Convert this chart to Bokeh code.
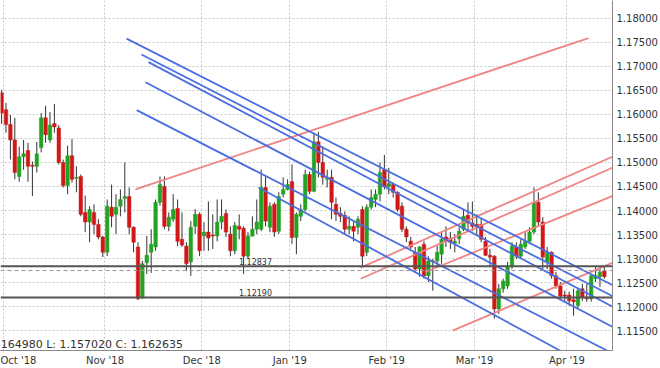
import pandas as pd
from bokeh.plotting import figure
from bokeh.models import Range1d, FixedTicker, Span, Label, ColumnDataSource, PrintfTickFormatter
from bokeh.core.properties import value
from bokeh.embed import file_html
from bokeh.resources import INLINE

# ---------------- data ----------------
holidays = ["2018-12-25", "2019-01-01"]
dates = [d for d in pd.bdate_range("2018-09-28", "2019-04-11") if d.strftime("%Y-%m-%d") not in holidays]

opens = [1.1645, 1.1610, 1.1579, 1.1547, 1.1471, 1.1512, 1.1525, 1.1494, 1.1492, 1.1531,
         1.1593, 1.1547, 1.1581, 1.1572, 1.1500, 1.1452, 1.1514, 1.1467, 1.1471, 1.1396,
         1.1376, 1.1396, 1.1371, 1.1345, 1.1313, 1.1407, 1.1392, 1.1409, 1.1425, 1.1429,
         1.1365, 1.1324, 1.1220, 1.1291, 1.1313, 1.1324, 1.1417, 1.1450, 1.1367, 1.1382,
         1.1404, 1.1340, 1.1326, 1.1293, 1.1367, 1.1392, 1.1347, 1.1355, 1.1349, 1.1347,
         1.1376, 1.1394, 1.1351, 1.1316, 1.1367, 1.1363, 1.1305, 1.1347, 1.1361, 1.1361,
         1.1448, 1.1365, 1.1413, 1.1357, 1.1434, 1.1444, 1.1460, 1.1344, 1.1388, 1.1402,
         1.1475, 1.1440, 1.1543, 1.1500, 1.1465, 1.1469, 1.1413, 1.1394, 1.1390, 1.1361,
         1.1367, 1.1365, 1.1402, 1.1313, 1.1407, 1.1423, 1.1434, 1.1485, 1.1450, 1.1454,
         1.1438, 1.1409, 1.1361, 1.1336, 1.1313, 1.1278, 1.1330, 1.1264, 1.1295, 1.1295,
         1.1309, 1.1345, 1.1342, 1.1332, 1.1341, 1.1361, 1.1390, 1.1374, 1.1371, 1.1371,
         1.1336, 1.1307, 1.1305, 1.1195, 1.1237, 1.1243, 1.1284, 1.1324, 1.1305, 1.1324,
         1.1336, 1.1355, 1.1417, 1.1376, 1.1293, 1.1313, 1.1264, 1.1243, 1.1224, 1.1224,
         1.1214, 1.1202, 1.1237, 1.1220, 1.1216, 1.1258, 1.1262, 1.1274]
highs = [1.1651, 1.1624, 1.1599, 1.1593, 1.1533, 1.1547, 1.1541, 1.1502, 1.1543, 1.1603,
         1.1618, 1.1605, 1.1622, 1.1578, 1.1506, 1.1535, 1.1549, 1.1492, 1.1475, 1.1431,
         1.1409, 1.1413, 1.1382, 1.1347, 1.1423, 1.1454, 1.1434, 1.1444, 1.1500, 1.1448,
         1.1367, 1.1334, 1.1295, 1.1347, 1.1361, 1.1423, 1.1471, 1.1471, 1.1396, 1.1434,
         1.1423, 1.1396, 1.1334, 1.1378, 1.1403, 1.1396, 1.1376, 1.1419, 1.1392, 1.1423,
         1.1423, 1.1402, 1.1367, 1.1376, 1.1392, 1.1367, 1.1355, 1.1388, 1.1423, 1.1485,
         1.1471, 1.1417, 1.1417, 1.1438, 1.1469, 1.1465, 1.1496, 1.1396, 1.1413, 1.1485,
         1.1481, 1.1562, 1.1564, 1.1533, 1.1485, 1.1485, 1.1427, 1.1407, 1.1398, 1.1388,
         1.1376, 1.1388, 1.1409, 1.1413, 1.1444, 1.1444, 1.1500, 1.1516, 1.1489, 1.1458,
         1.1440, 1.1417, 1.1367, 1.1345, 1.1324, 1.1326, 1.1336, 1.1305, 1.1299, 1.1326,
         1.1355, 1.1367, 1.1355, 1.1351, 1.1365, 1.1402, 1.1417, 1.1419, 1.1392, 1.1382,
         1.1345, 1.1320, 1.1307, 1.1247, 1.1258, 1.1293, 1.1334, 1.1334, 1.1340, 1.1355,
         1.1365, 1.1448, 1.1438, 1.1386, 1.1324, 1.1315, 1.1272, 1.1251, 1.1233, 1.1231,
         1.1237, 1.1237, 1.1247, 1.1247, 1.1268, 1.1284, 1.1282, 1.1284]
lows = [1.1580, 1.1562, 1.1506, 1.1465, 1.1460, 1.1485, 1.1460, 1.1430, 1.1479, 1.1521,
        1.1541, 1.1541, 1.1562, 1.1496, 1.1448, 1.1434, 1.1458, 1.1438, 1.1388, 1.1355,
        1.1334, 1.1351, 1.1340, 1.1303, 1.1305, 1.1365, 1.1351, 1.1388, 1.1396, 1.1351,
        1.1313, 1.1214, 1.1216, 1.1268, 1.1270, 1.1316, 1.1410, 1.1361, 1.1357, 1.1376,
        1.1326, 1.1324, 1.1274, 1.1264, 1.1351, 1.1305, 1.1316, 1.1316, 1.1320, 1.1336,
        1.1361, 1.1345, 1.1305, 1.1309, 1.1340, 1.1268, 1.1299, 1.1345, 1.1351, 1.1357,
        1.1367, 1.1355, 1.1345, 1.1351, 1.1427, 1.1442, 1.1330, 1.1309, 1.1378, 1.1398,
        1.1434, 1.1438, 1.1469, 1.1454, 1.1448, 1.1382, 1.1378, 1.1376, 1.1351, 1.1351,
        1.1336, 1.1351, 1.1284, 1.1305, 1.1402, 1.1407, 1.1419, 1.1444, 1.1434, 1.1427,
        1.1398, 1.1355, 1.1334, 1.1320, 1.1272, 1.1262, 1.1258, 1.1251, 1.1233, 1.1282,
        1.1289, 1.1324, 1.1320, 1.1313, 1.1330, 1.1357, 1.1357, 1.1357, 1.1349, 1.1334,
        1.1305, 1.1284, 1.1175, 1.1185, 1.1229, 1.1237, 1.1278, 1.1299, 1.1299, 1.1320,
        1.1330, 1.1351, 1.1367, 1.1278, 1.1278, 1.1258, 1.1237, 1.1216, 1.1212, 1.1202,
        1.1181, 1.1195, 1.1212, 1.1210, 1.1210, 1.1251, 1.1241, 1.1258]
closes = [1.1603, 1.1579, 1.1547, 1.1479, 1.1512, 1.1518, 1.1492, 1.1492, 1.1518, 1.1593,
          1.1558, 1.1578, 1.1574, 1.1500, 1.1452, 1.1514, 1.1465, 1.1469, 1.1392, 1.1376,
          1.1402, 1.1371, 1.1345, 1.1313, 1.1409, 1.1388, 1.1407, 1.1423, 1.1429, 1.1365,
          1.1334, 1.1216, 1.1289, 1.1307, 1.1330, 1.1417, 1.1454, 1.1367, 1.1386, 1.1402,
          1.1336, 1.1328, 1.1289, 1.1365, 1.1392, 1.1316, 1.1355, 1.1343, 1.1347, 1.1376,
          1.1388, 1.1355, 1.1316, 1.1369, 1.1361, 1.1305, 1.1347, 1.1361, 1.1376, 1.1448,
          1.1378, 1.1409, 1.1355, 1.1429, 1.1444, 1.1454, 1.1344, 1.1392, 1.1402, 1.1475,
          1.1440, 1.1543, 1.1500, 1.1469, 1.1469, 1.1417, 1.1392, 1.1388, 1.1361, 1.1367,
          1.1357, 1.1382, 1.1305, 1.1407, 1.1427, 1.1434, 1.1479, 1.1450, 1.1456, 1.1438,
          1.1402, 1.1361, 1.1345, 1.1324, 1.1278, 1.1324, 1.1264, 1.1295, 1.1293, 1.1313,
          1.1340, 1.1336, 1.1334, 1.1336, 1.1357, 1.1388, 1.1374, 1.1367, 1.1365, 1.1340,
          1.1307, 1.1303, 1.1195, 1.1237, 1.1253, 1.1284, 1.1326, 1.1305, 1.1330, 1.1336,
          1.1355, 1.1417, 1.1376, 1.1303, 1.1313, 1.1264, 1.1243, 1.1222, 1.1222, 1.1212,
          1.1210, 1.1233, 1.1220, 1.1216, 1.1264, 1.1264, 1.1272, 1.12623]

month_labels = ["Oct '18", "Nov '18", "Dec '18", "Jan '19", "Feb '19", "Mar '19", "Apr '19"]
month_starts = ["2018-10-01", "2018-11-01", "2018-12-03", "2019-01-02", "2019-02-01", "2019-03-01", "2019-04-01"]

# trend lines in (bar index, price)
blue_x0 = [28.4, 31.8, 33.4, 32.7, 30.7, 58.4]
blue_y0 = [1.1758, 1.1725, 1.1709, 1.1667, 1.1609, 1.1448]
blue_x1 = [138.8, 138.8, 138.8, 138.8, 137.7, 127.0]
blue_y1 = [1.1245, 1.1222, 1.1200, 1.1158, 1.1108, 1.1108]
red_x0 = [30.4, 81.6, 81.6, 96.3, 102.5]
red_y0 = [1.1444, 1.1281, 1.1258, 1.1272, 1.1150]
red_x1 = [133.4, 138.8, 138.8, 138.8, 138.8]
red_y1 = [1.1759, 1.1512, 1.1489, 1.1430, 1.1291]

level_hi = 1.12837
level_lo = 1.12190
level_dash = 1.1275
last_price = 1.12623
ohlc_text = "164980 L: 1.157020 C: 1.162635"

# ---------------- plot ----------------
n = len(closes)
idx = list(range(n))
date_to_idx = {d.strftime("%Y-%m-%d"): i for i, d in enumerate(dates)}
up = [c >= o for o, c in zip(opens, closes)]
src_up = ColumnDataSource(dict(x=[i for i in idx if up[i]],
                               top=[closes[i] for i in idx if up[i]],
                               bottom=[opens[i] for i in idx if up[i]]))
src_dn = ColumnDataSource(dict(x=[i for i in idx if not up[i]],
                               top=[opens[i] for i in idx if not up[i]],
                               bottom=[closes[i] for i in idx if not up[i]]))

FONT = "DejaVu Sans"
p = figure(width=660, height=368, output_backend="svg", toolbar_location=None,
           x_range=Range1d(-0.25, 138.85), y_range=Range1d(1.11085, 1.18373),
           y_axis_location="right", min_border_left=0, min_border_top=0,
           min_border_right=48, min_border_bottom=16)
p.outline_line_color = None
p.background_fill_color = "white"

tick_pos = [date_to_idx[d] - 0.5 for d in month_starts]
p.xaxis.ticker = FixedTicker(ticks=tick_pos)
p.xaxis.major_label_overrides = {t: l for t, l in zip(tick_pos, month_labels)}
p.yaxis.ticker = FixedTicker(ticks=[1.115 + 0.005 * k for k in range(14)])
p.yaxis.formatter = PrintfTickFormatter(format="%.5f")

for ax in (p.xaxis[0], p.yaxis[0]):
    ax.axis_line_color = "#888888"
    ax.major_tick_line_color = None
    ax.minor_tick_line_color = None
    ax.major_tick_out = 0
    ax.major_tick_in = 0
    ax.major_label_text_font = FONT
    ax.major_label_text_font_size = "10px"
    ax.major_label_text_color = "#333333"
    ax.major_label_standoff = 4

p.grid.grid_line_color = "#c8c8c8"
p.grid.grid_line_dash = "2 2"

# horizontal levels
p.add_layout(Span(location=level_dash, dimension="width", line_color="#999999",
                  line_dash="4 3", line_width=1))
p.add_layout(Span(location=level_hi, dimension="width", line_color="#555555", line_width=2))
p.add_layout(Span(location=level_lo, dimension="width", line_color="#555555", line_width=2))
p.text(x=[57.7, 57.7], y=[level_hi + 0.0002, level_lo + 0.0003],
       text=["1.12837", "1.12190"], text_align="center", text_baseline="bottom",
       text_font_size="8px", text_color="#333333", text_font=value(FONT))

# candles
p.segment(x0=idx, y0=lows, x1=idx, y1=highs, color="#333333", line_width=1)
p.vbar(x="x", top="top", bottom="bottom", width=0.8, source=src_up,
       fill_color="#22a322", line_color="#22a322", line_width=0.5)
p.vbar(x="x", top="top", bottom="bottom", width=0.8, source=src_dn,
       fill_color="#d01818", line_color="#d01818", line_width=0.5)

# trend lines
p.segment(x0=red_x0, y0=red_y0, x1=red_x1, y1=red_y1, line_color="#f08484", line_width=1.8)
p.segment(x0=blue_x0, y0=blue_y0, x1=blue_x1, y1=blue_y1, line_color="#4a6ee0", line_width=1.8)

# ohlc readout
p.text(x=[-0.2], y=[1.1121], text=[ohlc_text], text_align="left", text_baseline="middle",
       text_font_size="11px", text_color="#333333", text_font=value(FONT))

# last price marker
p.add_layout(Label(x=139.2, y=last_price, text=f"{last_price:.5f}", text_baseline="middle",
                   text_align="left", text_font=FONT, text_font_size="10px",
                   text_color="#222222", background_fill_color="#d2d94a",
                   padding=2))

open("out.html", "w").write(file_html(p, INLINE))
